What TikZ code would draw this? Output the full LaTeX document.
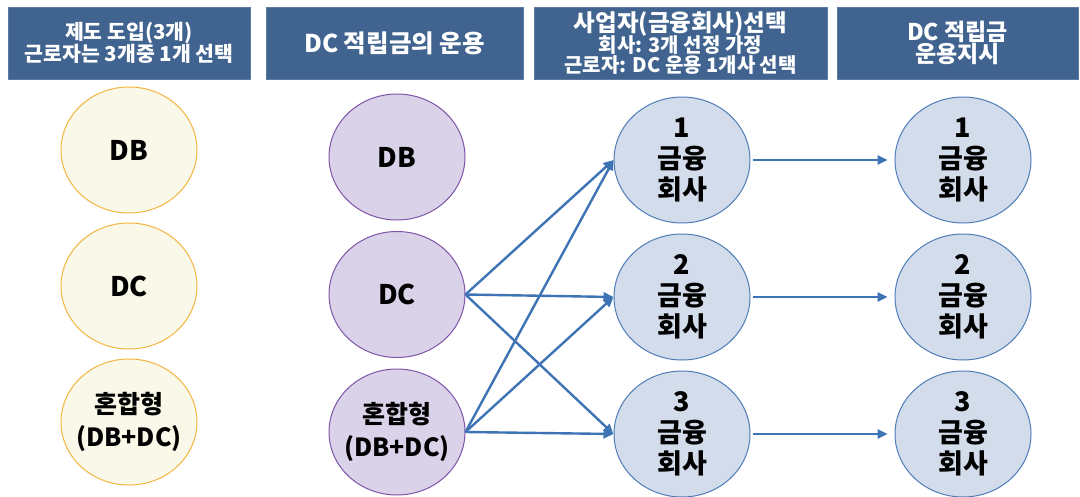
\documentclass[tikz,border=0pt]{standalone}
\usepackage{fontspec}
\setmainfont{Noto Sans CJK KR}
\usetikzlibrary{shapes.geometric,arrows.meta}
\definecolor{hdrblue}{HTML}{40638F}
\definecolor{ylwfill}{HTML}{FAF8E8}
\definecolor{ylwline}{HTML}{F4B540}
\definecolor{purfill}{HTML}{D9D2E8}
\definecolor{purline}{HTML}{7F55A8}
\definecolor{blufill}{HTML}{D3DCEB}
\definecolor{bluline}{HTML}{4E7DB8}
\definecolor{arrblue}{HTML}{3E74B5}
\newcommand{\lowtxt}[1]{\raisebox{-6pt}{#1}}
\begin{document}
\begin{tikzpicture}[x=1pt,y=-1pt,
  hdr/.style={fill=hdrblue, draw=hdrblue!85!white, line width=0.8pt, text=white, align=center,
    minimum height=72pt, inner sep=0pt, font=\bfseries},
  circ/.style={ellipse, minimum width=136pt, minimum height=126pt, inner sep=-20pt,
    align=center, line width=1pt, font=\bfseries\fontsize{27}{31}\selectfont},
  ylw/.style={circ, fill=ylwfill, draw=ylwline},
  pur/.style={circ, fill=purfill, draw=purline},
  blu/.style={circ, fill=blufill, draw=bluline},
  mixtxt/.style={font=\bfseries\fontsize{25}{33}\selectfont},
  arr/.style={draw=arrblue, line width=2.4pt, -{Triangle[length=10pt,width=9pt]}}
]
\useasboundingbox (0,0) rectangle (1080,496);
\fill[white] (0,0) rectangle (1080,496);
% headers
\node[hdr, minimum width=242pt] (h1) at (129,43) {\fontsize{20.5}{24}\selectfont 제도 도입(3개)\\\fontsize{20.5}{24}\selectfont 근로자는 3개중 1개 선택};
\node[hdr, minimum width=257pt] (h2) at (394.5,43) {\fontsize{24.5}{28}\selectfont DC 적립금의 운용};
\node[hdr, minimum width=293pt] (h3) at (680.5,43) {\fontsize{23.5}{25}\selectfont 사업자(금융회사)선택\\[-2pt]\fontsize{20}{22}\selectfont 회사: 3개 선정 가정\\\fontsize{20}{22}\selectfont 근로자: DC 운용 1개사 선택};
\node[hdr, minimum width=241pt] (h4) at (957.5,43) {\fontsize{23}{24}\selectfont DC 적립금\\\fontsize{23}{24}\selectfont 운용지시};
% column 1
\node[ylw] (a1) at (129,150) {\lowtxt{DB}};
\node[ylw] (a2) at (129,286) {\lowtxt{DC}};
\node[ylw, mixtxt] (a3) at (129,422) {혼합형\\(DB+DC)};
% column 2
\node[pur] (b1) at (397,157) {\lowtxt{DB}};
\node[pur] (b2) at (397,294.5) {\lowtxt{DC}};
\node[pur, mixtxt] (b3) at (397,432) {혼합형\\(DB+DC)};
% column 3
\node[blu] (c1) at (682,160) {1\\금융\\회사};
\node[blu] (c2) at (682,297) {2\\금융\\회사};
\node[blu] (c3) at (682,434) {3\\금융\\회사};
% column 4
\node[blu] (d1) at (963,160) {1\\금융\\회사};
\node[blu] (d2) at (963,297) {2\\금융\\회사};
\node[blu] (d3) at (963,434) {3\\금융\\회사};
% connectors
\draw[arr] (b2.east) -- (c1.west);
\draw[arr] (b2.east) -- (c2.west);
\draw[arr] (b2.east) -- (c3.west);
\draw[arr] (b3.east) -- (c1.west);
\draw[arr] (b3.east) -- (c2.west);
\draw[arr] (b3.east) -- (c3.west);
\draw[arr, shorten <=2pt, shorten >=7pt] (c1.east) -- (d1.west);
\draw[arr, shorten <=2pt, shorten >=7pt] (c2.east) -- (d2.west);
\draw[arr, shorten <=2pt, shorten >=7pt] (c3.east) -- (d3.west);
\end{tikzpicture}
\end{document}
